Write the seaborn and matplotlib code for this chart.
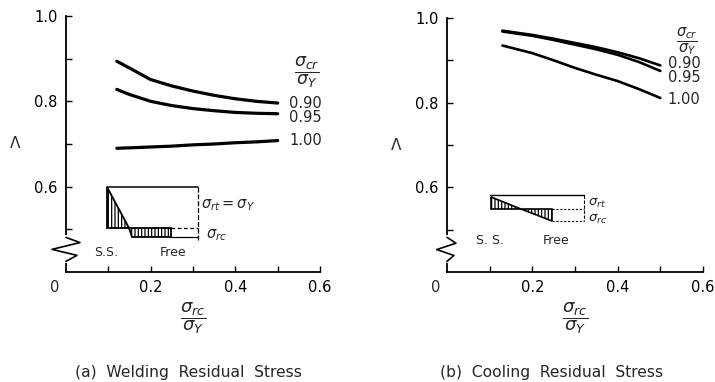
import matplotlib
matplotlib.use("Agg")
import matplotlib.pyplot as plt
import matplotlib.transforms as mtransforms
from matplotlib.patches import Polygon
import numpy as np
import pandas as pd
import seaborn as sns

# ---------------- data ----------------
ratio_levels = ["0.90", "0.95", "1.00"]

x_weld = [0.12, 0.15, 0.20, 0.25, 0.30, 0.35, 0.40, 0.45, 0.50]
weld_090 = [0.894, 0.878, 0.851, 0.836, 0.824, 0.814, 0.806, 0.800, 0.796]
weld_095 = [0.828, 0.816, 0.800, 0.790, 0.783, 0.778, 0.774, 0.772, 0.771]
weld_100 = [0.690, 0.691, 0.693, 0.695, 0.698, 0.700, 0.703, 0.705, 0.708]

x_cool = [0.13, 0.20, 0.25, 0.30, 0.35, 0.40, 0.45, 0.50]
cool_090 = [0.970, 0.960, 0.951, 0.941, 0.931, 0.919, 0.905, 0.888]
cool_095 = [0.968, 0.958, 0.948, 0.937, 0.926, 0.913, 0.896, 0.875]
cool_100 = [0.935, 0.917, 0.900, 0.882, 0.866, 0.851, 0.832, 0.811]

y_ticks = [0.5, 0.6, 0.7, 0.8, 0.9, 1.0]
y_ticklabels = ["", "0.6", "", "0.8", "", "1.0"]
x_ticks = [0.1, 0.2, 0.3, 0.4, 0.5, 0.6]
x_ticklabels = ["", "0.2", "", "0.4", "", "0.6"]

captions = ["(a)  Welding  Residual  Stress", "(b)  Cooling  Residual  Stress"]


def long_df(x, series):
    rows = []
    for lab, ys in zip(ratio_levels, series):
        for xi, yi in zip(x, ys):
            rows.append({"ratio": xi, "lam": yi, "scr": lab})
    return pd.DataFrame(rows)


df_weld = long_df(x_weld, [weld_090, weld_095, weld_100])
df_cool = long_df(x_cool, [cool_090, cool_095, cool_100])

# ---------------- style ----------------
sns.set_style("ticks")
plt.rcParams["font.family"] = ["DejaVu Sans"]
plt.rcParams["mathtext.fontset"] = "dejavusans"
plt.rcParams["hatch.linewidth"] = 0.9

fig = plt.figure(figsize=(7.15, 3.82), dpi=100)
ax1 = fig.add_axes([66 / 715, 1 - 272 / 382, 254 / 715, 256 / 382])
ax2 = fig.add_axes([447 / 715, 1 - 272 / 382, 256 / 715, 254 / 382])

for ax, df, lw in [(ax1, df_weld, 2.3), (ax2, df_cool, 1.9)]:
    sns.lineplot(data=df, x="ratio", y="lam", hue="scr", palette=["black"] * 3,
                 estimator=None, sort=True, legend=False, linewidth=lw, ax=ax)
    ax.set_xlim(0, 0.6)
    ax.set_ylim(0.40, 1.0)
    ax.set_xticks(x_ticks)
    ax.set_xticklabels(x_ticklabels)
    ax.set_yticks(y_ticks)
    ax.set_yticklabels(y_ticklabels)
    ax.tick_params(direction="in", length=4, width=1.0, labelsize=10.5,
                   color="black", labelcolor="black")
    ax.tick_params(axis="x", pad=6)
    ax.tick_params(axis="y", pad=6)
    for s in ["top", "right"]:
        ax.spines[s].set_visible(False)
    for s in ["left", "bottom"]:
        ax.spines[s].set_linewidth(1.3)
        ax.spines[s].set_color("black")
    ax.set_xlabel("")
    ax.set_ylabel("")
    ax.patch.set_alpha(0)
    # "0" label at origin, shifted left
    ax.annotate("0", xy=(0, 0), xycoords="axes fraction", xytext=(-8, -11),
                textcoords="offset points", ha="center", va="center", fontsize=10.5)
    # Lambda label
    ax.text(-0.2, 0.70, "Λ", transform=mtransforms.blended_transform_factory(ax.transAxes, ax.transData),
            ha="center", va="center", fontsize=11)
    # x label fraction
    ax.text(0.30, -0.18, r"$\dfrac{\sigma_{rc}}{\sigma_Y}$",
            transform=mtransforms.blended_transform_factory(ax.transData, ax.transAxes),
            ha="center", va="center", fontsize=13)

# zigzag breaks
def zigzag(ax, xs, ys):
    tr = mtransforms.blended_transform_factory(ax.transAxes, ax.transData)
    ax.plot([0, 0], [ys[0], ys[-1]], color="white", lw=3, transform=tr, clip_on=False, zorder=5)
    ax.plot(xs, ys, color="black", lw=1.2, transform=tr, clip_on=False, zorder=6)

zigzag(ax1, [0, 0.055, -0.055, 0.043, 0], [0.481, 0.469, 0.453, 0.439, 0.425])
zigzag(ax2, [0, 0.035, -0.04, 0.027, 0], [0.482, 0.468, 0.453, 0.439, 0.425])

# curve labels
for ax, fx, fy, fs, lx, lys in [
    (ax1, 0.569, 0.867, 12.5, 0.527, [0.794, 0.761, 0.708]),
    (ax2, 0.562, 0.946, 10.5, 0.517, [0.892, 0.860, 0.808]),
]:
    ax.text(fx, fy, r"$\dfrac{\sigma_{cr}}{\sigma_Y}$", ha="center", va="center",
            fontsize=fs, clip_on=False)
    for lab, ly in zip(ratio_levels, lys):
        ax.text(lx, ly, lab, ha="left", va="center", fontsize=10.5, clip_on=False)

# ---------------- insets ----------------
# Welding residual stress inset
k = dict(color="black", clip_on=False)
ax1.plot([0.098, 0.312], [0.600, 0.600], lw=1.1, **k)
ax1.add_patch(Polygon([[0.098, 0.600], [0.098, 0.504], [0.148, 0.504]], closed=True,
                      facecolor="none", edgecolor="black", hatch="|||||", lw=1.3, clip_on=False))
ax1.add_patch(Polygon([[0.148, 0.504], [0.248, 0.504], [0.248, 0.483], [0.156, 0.483]], closed=True,
                      facecolor="none", edgecolor="black", hatch="|||||", lw=1.3, clip_on=False))
ax1.plot([0.248, 0.312], [0.504, 0.504], lw=0.9, ls=(0, (3, 2)), **k)
ax1.plot([0.248, 0.312], [0.483, 0.483], lw=0.9, **k)
ax1.plot([0.312, 0.312], [0.600, 0.476], lw=0.9, ls=(0, (4, 1.5)), **k)
ax1.text(0.318, 0.556, r"$\sigma_{rt}=\sigma_Y$", ha="left", va="center", fontsize=10.5)
ax1.text(0.330, 0.487, r"$\sigma_{rc}$", ha="left", va="center", fontsize=10.5)
ax1.text(0.095, 0.446, "S.S.", ha="center", va="center", fontsize=9)
ax1.text(0.252, 0.446, "Free", ha="center", va="center", fontsize=9)

# Cooling residual stress inset
ax2.plot([0.100, 0.321], [0.581, 0.581], lw=1.0, **k)
ax2.add_patch(Polygon([[0.102, 0.577], [0.102, 0.549], [0.174, 0.549]], closed=True,
                      facecolor="none", edgecolor="black", hatch="|||||", lw=1.2, clip_on=False))
ax2.add_patch(Polygon([[0.174, 0.549], [0.247, 0.549], [0.247, 0.521]], closed=True,
                      facecolor="none", edgecolor="black", hatch="|||||", lw=1.2, clip_on=False))
ax2.plot([0.247, 0.321], [0.549, 0.549], lw=0.8, ls=(0, (2, 1.5)), **k)
ax2.plot([0.247, 0.321], [0.521, 0.521], lw=0.8, ls=(0, (2, 1.5)), **k)
ax2.plot([0.321, 0.321], [0.581, 0.521], lw=0.8, ls=(0, (3, 1.5)), **k)
ax2.text(0.330, 0.563, r"$\sigma_{rt}$", ha="left", va="center", fontsize=9.5)
ax2.text(0.330, 0.525, r"$\sigma_{rc}$", ha="left", va="center", fontsize=9.5)
ax2.text(0.100, 0.474, "S. S.", ha="center", va="center", fontsize=9)
ax2.text(0.256, 0.474, "Free", ha="center", va="center", fontsize=9)

# captions
fig.text(0.264, 0.024, captions[0], ha="center", va="center", fontsize=11.2)
fig.text(0.772, 0.024, captions[1], ha="center", va="center", fontsize=11.2)

fig.savefig("out.png", dpi=100)
